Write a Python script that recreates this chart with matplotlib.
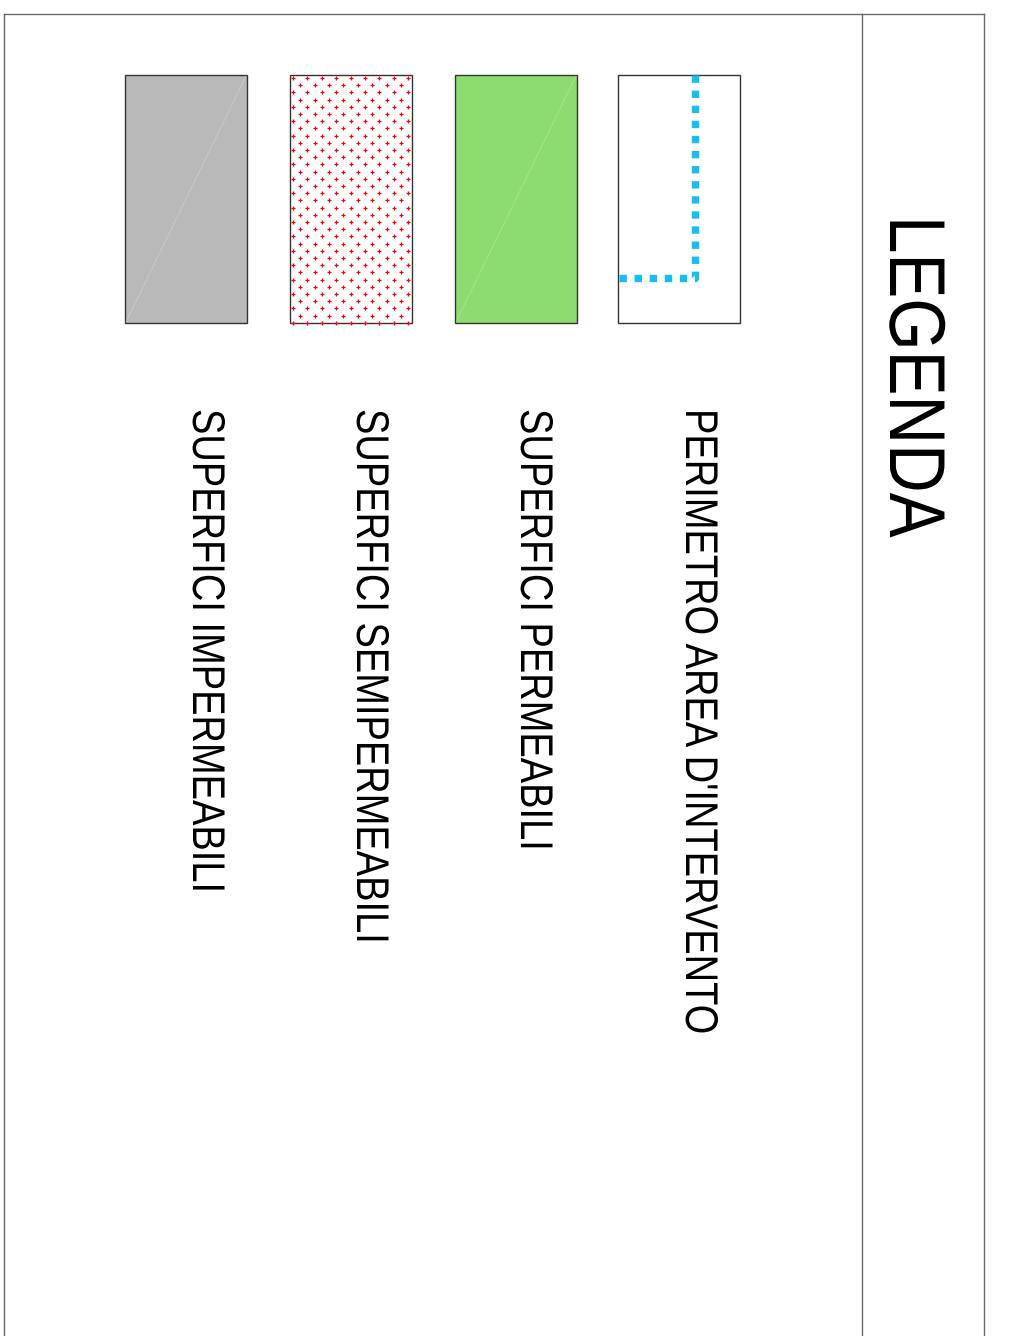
import numpy as np
import matplotlib.pyplot as plt
from matplotlib.patches import Rectangle
from matplotlib.transforms import Affine2D
from matplotlib import patheffects

title = "LEGENDA"
labels = ["PERIMETRO AREA D'INTERVENTO", "SUPERFICI PERMEABILI",
          "SUPERFICI SEMIPERMEABILI", "SUPERFICI IMPERMEABILI"]
fills = ["white", "#8ddc6f", "white", "#b9b9b9"]
kinds = ["perimeter", "plain", "crosses", "plain"]

font = ['Liberation Sans', 'DejaVu Sans']


# the lettering in the drawing is condensed; squeeze glyphs along the baseline
class Squeeze(patheffects.AbstractPathEffect):
    def __init__(self, sx):
        super().__init__()
        self.sx = sx

    def draw_path(self, renderer, gc, tpath, affine, rgbFace=None):
        renderer.draw_path(gc, tpath, Affine2D().scale(self.sx, 1) + affine, rgbFace)


fig = plt.figure(figsize=(10.15, 13.36), dpi=100)
ax = fig.add_axes([0, 0, 1, 1])
ax.set_xlim(0, 1015)
ax.set_ylim(1336, 0)
ax.axis('off')

# frame
frame = '#6a6a6a'
ax.plot([4, 4], [1336, 14], color=frame, lw=1.0)
ax.plot([4, 984], [14, 14], color=frame, lw=1.0)
ax.plot([984, 984], [14, 1336], color=frame, lw=1.0)
ax.plot([862, 862], [14, 1336], color=frame, lw=1.0)

ax.text(890, 216, title, rotation=270, rotation_mode='anchor',
        ha='left', va='baseline', fontsize=57, family=font, color='black',
        path_effects=[Squeeze(0.85)])

# swatches, right to left
sw_x = [618, 455, 290, 125]
base_x = [686, 521, 357, 193]
sw_w, sw_h, sw_y = 122, 248, 75

for i, (lab, fc, kind) in enumerate(zip(labels, fills, kinds)):
    x0 = sw_x[i]
    ax.add_patch(Rectangle((x0, sw_y), sw_w, sw_h, facecolor=fc,
                           edgecolor='#333333', lw=1.0, zorder=2))
    if kind == "plain":
        ax.plot([x0 + 1, x0 + sw_w - 1], [sw_y + sw_h - 1, sw_y + 1],
                color='white', alpha=0.25, lw=0.6, zorder=3)
    elif kind == "crosses":
        pts = []
        for r, yy in enumerate(np.arange(sw_y + 3, sw_y + sw_h, 7.2)):
            start = x0 + 3 if r % 2 == 0 else x0 + 10.2
            for xx in np.arange(start, x0 + sw_w - 1, 14.4):
                pts.append((xx, yy))
        pts = np.array(pts)
        ax.scatter(pts[:, 0], pts[:, 1], marker='+', s=11, c='red',
                   linewidths=0.9, zorder=3)
    elif kind == "perimeter":
        ax.plot([695, 695, x0], [sw_y, 278, 278], color='#13bff5', lw=5.3,
                linestyle=(0, (1, 1.05)), dash_capstyle='butt', zorder=3)
    ax.text(base_x[i], 409, lab, rotation=270, rotation_mode='anchor',
            ha='left', va='baseline', fontsize=33, family=font, color='black',
            path_effects=[Squeeze(0.83)])

fig.savefig('out.png', dpi=100)
